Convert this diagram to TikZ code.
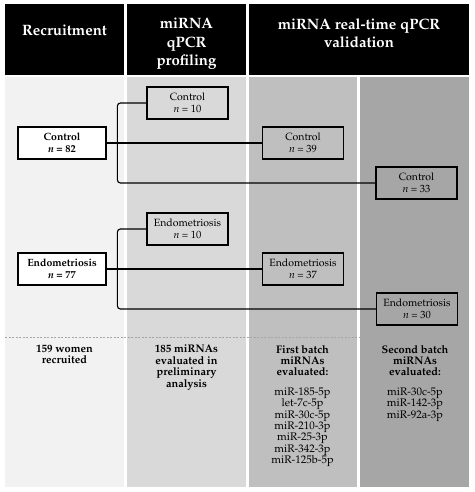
\documentclass[tikz,border=0pt]{standalone}
\usepackage[T1]{fontenc}
\usepackage{mathpazo}
\usepackage{xcolor}
\usetikzlibrary{positioning}
\definecolor{bgone}{HTML}{F2F2F2}
\definecolor{bgtwo}{HTML}{D9D9D9}
\definecolor{bgthree}{HTML}{BFBFBF}
\definecolor{bgfour}{HTML}{A6A6A6}
\tikzset{>=latex}

\begin{document}
\begin{tikzpicture}[x=1pt,y=-1pt,
	headtext/.style={text=white, align=center, inner sep=0pt, font=\fontsize{15}{18.5}\selectfont\bfseries},
	group/.style={draw, line width=1.2pt, minimum width=81pt, minimum height=32pt, inner sep=1pt, align=center, font=\fontsize{10.5}{12}\selectfont},
	recruit/.style={group, fill=white, minimum width=88pt, font=\fontsize{10.5}{12}\selectfont\bfseries},
	link/.style={line width=1.1pt, rounded corners=3pt},
	foot/.style={anchor=north, align=center, inner sep=0pt, font=\fontsize{11}{11.4}\selectfont}]

\useasboundingbox (0,0) rectangle (474,492);

\def\ytop{77}
\def\ybot{487}

% Column backgrounds
\fill[bgone] (5,\ytop) rectangle (124,\ybot);
\fill[bgtwo] (127,\ytop) rectangle (246,\ybot);
\fill[bgthree] (249,\ytop) rectangle (357,\ybot);
\fill[bgfour] (360,\ytop) rectangle (469,\ybot);

% Headers
\fill[black] (5,4) rectangle (124,75);
\fill[black] (127,4) rectangle (246,75);
\fill[black] (249,4) rectangle (469,75);
\node[headtext] (hrec) at (64.5,30) {Recruitment};
\node[headtext] (hprof) at (186.5,44) {miRNA\\qPCR\\profiling};
\node[headtext] (hval) at (359,33) {miRNA real-time qPCR\\validation};

% Groups
\node[recruit] (ctl82) at (62,143) {Control\\\textit{n} = 82};
\node[group, fill=bgtwo] (ctl10) at (187.5,103) {Control\\\textit{n} = 10};
\node[group, fill=bgthree] (ctl39) at (303,143) {Control\\\textit{n} = 39};
\node[group, fill=bgfour] (ctl33) at (416.5,183) {Control\\\textit{n} = 33};

\node[recruit] (endo77) at (62,269) {Endometriosis\\\textit{n} = 77};
\node[group, fill=bgtwo] (endo10) at (187.5,229) {Endometriosis\\\textit{n} = 10};
\node[group, fill=bgthree] (endo37) at (303,269) {Endometriosis\\\textit{n} = 37};
\node[group, fill=bgfour] (endo30) at (417,309) {Endometriosis\\\textit{n} = 30};

% Connectors
\draw[link] (ctl82.east) -- (ctl39.west);
\draw[link] (ctl10.west) -- ++(-29,0) |- (ctl33.west);
\draw[link] (endo77.east) -- (endo37.west);
\draw[link] (endo10.west) -- ++(-29,0) |- (endo30.west);

% Separator
\draw[gray!70, line width=0.8pt, dash pattern=on 2pt off 1.5pt] (5,337) -- (469,337);

% Footnotes
\node[foot] (frec) at (64.5,345) {\textbf{159 women}\\\textbf{recruited}};
\node[foot] (fprof) at (186.5,345) {\textbf{185 miRNAs}\\\textbf{evaluated in}\\\textbf{preliminary}\\\textbf{analysis}};
\node[foot] (ffirst) at (302.5,345) {\textbf{First batch}\\\textbf{miRNAs}\\\textbf{evaluated:}\\[8pt]miR-185-5p\\let-7c-5p\\miR-30c-5p\\miR-210-3p\\miR-25-3p\\miR-342-3p\\miR-125b-5p};
\node[foot] (fsecond) at (415,345) {\textbf{Second batch}\\\textbf{miRNAs}\\\textbf{evaluated:}\\[8pt]miR-30c-5p\\miR-142-3p\\miR-92a-3p};

\end{tikzpicture}
\end{document}
